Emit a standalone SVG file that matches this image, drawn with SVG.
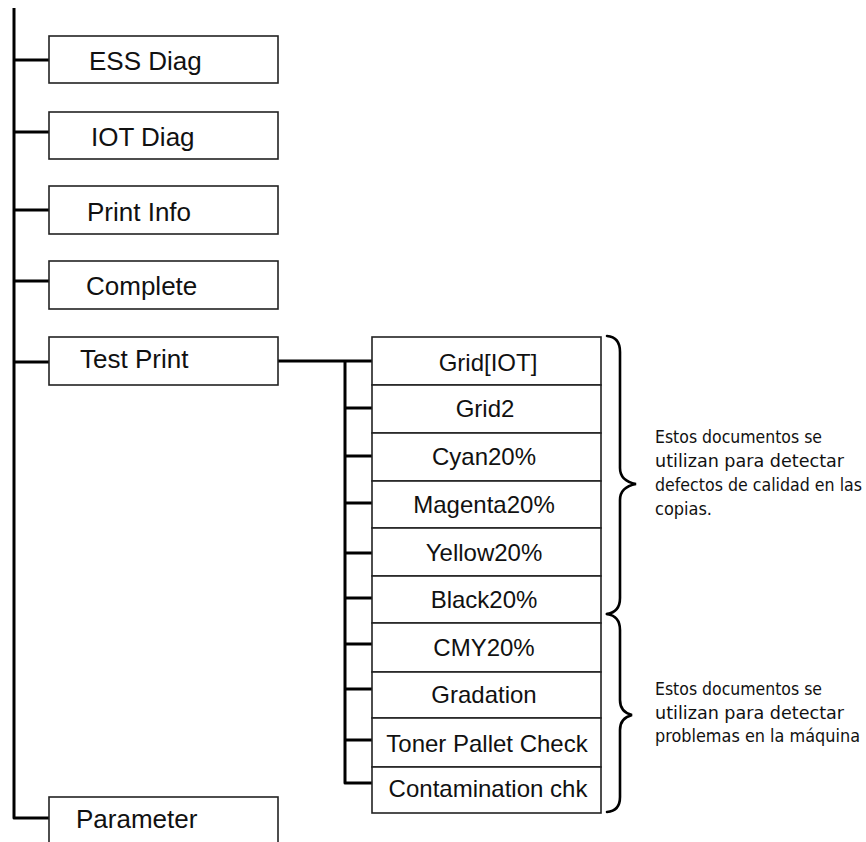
<svg xmlns="http://www.w3.org/2000/svg" width="866" height="842" viewBox="0 0 866 842">
<style>
.box{fill:#fff;stroke:#222;stroke-width:1.6}
.main{font-family:"Liberation Sans",Arial,sans-serif;font-size:26px;fill:#111}
.sub{font-family:"Liberation Sans",Arial,sans-serif;font-size:24px;fill:#111;text-anchor:middle}
.note{font-family:"DejaVu Sans Condensed","DejaVu Sans",sans-serif;font-size:17px;fill:#111}
.wire{fill:none;stroke:#000;stroke-width:3;stroke-linejoin:round}
.brace{fill:none;stroke:#000;stroke-width:2.6;stroke-linecap:round}
</style>
<rect width="866" height="842" fill="#fff"/>
<g id="connectors">
<path class="wire" d="M14,8 V818 H49"/>
<path class="wire" d="M14,60 H49 M14,132 H49 M14,210 H49 M14,281 H49 M14,362 H49"/>
<path class="wire" d="M278,361 H372 M345,361 V783 H372"/>
<path class="wire" d="M345,408 H372 M345,456 H372 M345,503 H372 M345,553 H372 M345,598 H372 M345,644 H372 M345,689 H372 M345,740 H372"/>
</g>
<g id="ess-diag"><rect class="box" x="49" y="36" width="229" height="47"/><text class="main" x="89" y="70">ESS Diag</text></g>
<g id="iot-diag"><rect class="box" x="49" y="112" width="229" height="47"/><text class="main" x="91" y="146">IOT Diag</text></g>
<g id="print-info"><rect class="box" x="49" y="186" width="229" height="48"/><text class="main" x="87" y="221">Print Info</text></g>
<g id="complete"><rect class="box" x="49" y="261" width="229" height="48"/><text class="main" x="86" y="295">Complete</text></g>
<g id="test-print"><rect class="box" x="49" y="337" width="229" height="48"/><text class="main" x="80" y="368">Test Print</text></g>
<g id="parameter"><rect class="box" x="49" y="797" width="229" height="48"/><text class="main" x="76" y="828">Parameter</text></g>
<g id="grid-iot"><rect class="box" x="372" y="337" width="229" height="48"/><text class="sub" x="488" y="371">Grid[IOT]</text></g>
<g id="grid2"><rect class="box" x="372" y="385" width="229" height="48"/><text class="sub" x="485" y="417">Grid2</text></g>
<g id="cyan20"><rect class="box" x="372" y="433" width="229" height="48"/><text class="sub" x="484" y="465">Cyan20%</text></g>
<g id="magenta20"><rect class="box" x="372" y="481" width="229" height="47"/><text class="sub" x="484" y="513">Magenta20%</text></g>
<g id="yellow20"><rect class="box" x="372" y="528" width="229" height="48"/><text class="sub" x="484" y="561">Yellow20%</text></g>
<g id="black20"><rect class="box" x="372" y="576" width="229" height="47"/><text class="sub" x="484" y="608">Black20%</text></g>
<g id="cmy20"><rect class="box" x="372" y="623" width="229" height="49"/><text class="sub" x="484" y="656">CMY20%</text></g>
<g id="gradation"><rect class="box" x="372" y="672" width="229" height="46"/><text class="sub" x="484" y="703">Gradation</text></g>
<g id="toner-pallet-check"><rect class="box" x="372" y="718" width="229" height="49"/><text class="sub" x="487" y="752">Toner Pallet Check</text></g>
<g id="contamination-chk"><rect class="box" x="372" y="767" width="229" height="46"/><text class="sub" x="488" y="797">Contamination chk</text></g>
<g id="brace-quality">
<path class="brace" d="M607,336 Q620,337 620,352 L620,468 Q620,481 636,484 Q620,487 620,500 L620,598 Q620,612 607,614"/>
<text class="note" x="655" y="443" textLength="167" lengthAdjust="spacingAndGlyphs">Estos documentos se</text>
<text class="note" x="655" y="467" textLength="189" lengthAdjust="spacingAndGlyphs">utilizan para detectar</text>
<text class="note" x="655" y="491" textLength="207" lengthAdjust="spacingAndGlyphs">defectos de calidad en las</text>
<text class="note" x="655" y="515" textLength="57" lengthAdjust="spacingAndGlyphs">copias.</text>
</g>
<g id="brace-machine">
<path class="brace" d="M607,614 Q620,616 620,630 L620,700 Q620,712 632,715 Q620,718 620,730 L620,797 Q620,811 607,812"/>
<text class="note" x="655" y="695" textLength="167" lengthAdjust="spacingAndGlyphs">Estos documentos se</text>
<text class="note" x="655" y="719" textLength="189" lengthAdjust="spacingAndGlyphs">utilizan para detectar</text>
<text class="note" x="655" y="742" textLength="205" lengthAdjust="spacingAndGlyphs">problemas en la máquina</text>
</g>
</svg>
